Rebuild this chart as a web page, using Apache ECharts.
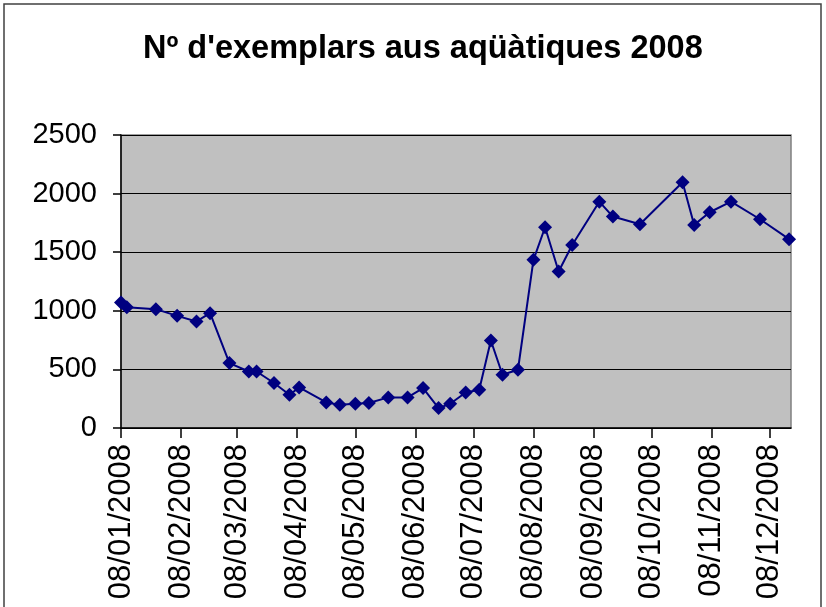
<!DOCTYPE html>
<html>
<head>
<meta charset="utf-8">
<script src="https://cdn.jsdelivr.net/npm/echarts@6/dist/echarts.min.js"></script>
<style>
  html, body { margin: 0; padding: 0; background: #fff; }
  #chart { width: 826px; height: 607px; }
</style>
</head>
<body>
<div id="chart"></div>
<script>
// sampling dates and counts
var dates = ['2008-01-08','2008-01-11','2008-01-26','2008-02-06','2008-02-16','2008-02-23',
  '2008-03-04','2008-03-14','2008-03-18','2008-03-27','2008-04-04','2008-04-09','2008-04-23',
  '2008-04-30','2008-05-08','2008-05-15','2008-05-25','2008-06-04','2008-06-12','2008-06-20',
  '2008-06-26','2008-07-04','2008-07-11','2008-07-17','2008-07-23','2008-07-31','2008-08-08',
  '2008-08-14','2008-08-21','2008-08-28','2008-09-11','2008-09-18','2008-10-02','2008-10-24',
  '2008-10-30','2008-11-07','2008-11-18','2008-12-03','2008-12-18'];
var exemplars = [1071,1031,1014,957,909,980,554,482,482,384,284,346,218,199,207,213,261,261,
  341,170,207,303,326,747,454,497,1435,1713,1335,1562,1931,1804,1739,2097,1733,1841,1931,1781,1611];
// x ticks on the 8th of every month
var tickMonths = [0,1,2,3,4,5,6,7,8,9,10,11];
var yTicks = [0, 500, 1000, 1500, 2000, 2500];

function day(s) {
  var p = s.split('-');
  return new Date(+p[0], +p[1] - 1, +p[2]).getTime();
}
function pad(n) { return (n < 10 ? '0' : '') + n; }

var tickValues = tickMonths.map(function (m) { return new Date(2008, m, 8).getTime(); });
var points = dates.map(function (d, i) { return [day(d), exemplars[i]]; });

var myChart = echarts.init(document.getElementById('chart'));

var option = {
  animation: false,
  title: {
    text: "Nº d'exemplars aus aqüàtiques 2008",
    left: 138,
    top: 28,
    padding: 5,
    textStyle: { fontFamily: 'Liberation Sans, Arial', fontSize: 32.5, fontWeight: 'bold', color: '#000' }
  },
  graphic: [{
    type: 'rect',
    shape: { x: 4, y: 4, width: 817, height: 640 },
    style: { fill: 'none', stroke: '#404040', lineWidth: 1.5 },
    silent: true
  }],
  grid: {
    left: 121, right: 35, top: 135, bottom: 179,
    show: true, backgroundColor: '#c0c0c0', borderColor: '#808080', borderWidth: 1.5
  },
  xAxis: {
    type: 'value',
    min: tickValues[0],
    max: new Date(2008, 11, 19).getTime(),
    axisLine: { lineStyle: { color: '#000', width: 1.5 } },
    axisTick: { show: true, length: 10, customValues: tickValues, lineStyle: { color: '#000', width: 1.5 } },
    splitLine: { show: false },
    axisLabel: {
      customValues: tickValues,
      rotate: 90,
      margin: 16,
      fontFamily: 'Liberation Sans, Arial',
      fontSize: 31,
      color: '#000',
      formatter: function (v) {
        var d = new Date(v);
        return pad(d.getDate()) + '/' + pad(d.getMonth() + 1) + '/' + d.getFullYear();
      }
    }
  },
  yAxis: {
    type: 'value',
    min: yTicks[0],
    max: yTicks[yTicks.length - 1],
    interval: 500,
    axisLine: { show: true, lineStyle: { color: '#000', width: 1.5 } },
    axisTick: { show: true, length: 8, lineStyle: { color: '#000', width: 1.5 } },
    splitLine: { show: true, lineStyle: { color: '#000', width: 1.2 } },
    axisLabel: {
      margin: 24,
      fontFamily: 'Liberation Sans, Arial',
      fontSize: 29,
      color: '#000',
      formatter: function (v) { return String(v); }
    }
  },
  series: [{
    name: "Nº d'exemplars",
    type: 'line',
    data: points,
    symbol: 'diamond',
    symbolSize: 14,
    lineStyle: { color: '#000080', width: 2 },
    itemStyle: { color: '#000080' }
  }]
};

myChart.setOption(option);
</script>
</body>
</html>
